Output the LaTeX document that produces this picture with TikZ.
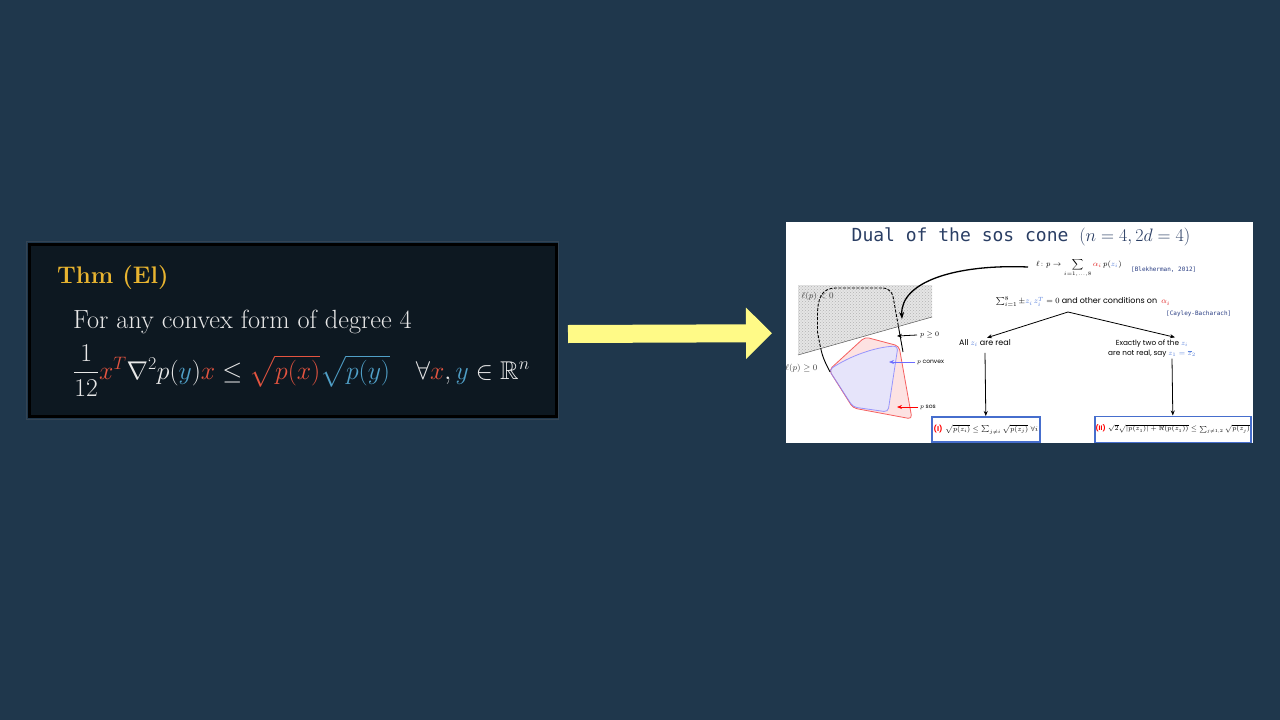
\RequirePackage{fix-cm}
\documentclass[tikz,border=0pt]{standalone}
\usepackage{amsmath,amssymb}
\usepackage{fontspec}
\newfontfamily\slidesans{Poppins}
\newfontfamily\slidemono{DejaVu Sans Mono}
\usetikzlibrary{arrows.meta,patterns}

\definecolor{bg}{RGB}{31,55,76}
\definecolor{panelfill}{RGB}{13,24,33}
\definecolor{panelrim}{RGB}{52,68,84}
\definecolor{gold}{RGB}{232,180,48}
\definecolor{xred}{RGB}{228,84,64}
\definecolor{yblue}{RGB}{80,160,200}
\definecolor{chalk}{RGB}{232,232,232}
\definecolor{arrowyellow}{RGB}{255,250,135}
\definecolor{titleblue}{RGB}{42,62,100}
\definecolor{refblue}{RGB}{40,60,130}
\definecolor{zblue}{RGB}{90,130,220}
\definecolor{alphared}{RGB}{225,35,35}
\definecolor{sosred}{RGB}{245,95,95}
\definecolor{sosfill}{RGB}{253,226,226}
\definecolor{cvxblue}{RGB}{135,135,255}
\definecolor{cvxfill}{RGB}{230,228,250}
\definecolor{boxblue}{RGB}{70,110,205}

\newcommand\xcol[1]{{\color{xred}#1}}
\newcommand\ycol[1]{{\color{yblue}#1}}
\newcommand\zcol[1]{{\color{zblue}#1}}
\newcommand\acol[1]{{\color{alphared}#1}}

\begin{document}
\begin{tikzpicture}[x=1pt,y=-1pt,
  every node/.style={inner sep=0pt},
  chalktext/.style={text=chalk,anchor=base west},
  sanslabel/.style={font=\slidesans\fontsize{8}{9.5}\selectfont},
  smalllabel/.style={font=\slidesans\fontsize{6}{7}\selectfont},
  refnote/.style={font=\slidemono\fontsize{6}{7}\selectfont,text=refblue},
  thinarrow/.style={-{Stealth[length=5pt,width=4pt]},line width=0.8pt},
  resultbox/.style={draw=boxblue,line width=1.6pt,fill=white,inner sep=0pt}
]
% background
\fill[bg] (0,0) rectangle (1280,720);
\useasboundingbox (0,0) rectangle (1280,720);

% ---------- theorem card ----------
\node[draw=panelrim,line width=1pt,minimum width=532pt,minimum height=178pt,anchor=north west] (rim) at (25.5,240.5) {};
\node[draw=black,line width=3pt,fill=panelfill,minimum width=527pt,minimum height=172pt,anchor=north west] (thm) at (28,243) {};
\node[anchor=base west,text=gold,font=\fontsize{24}{28}\selectfont\bfseries] (thmtitle) at (57,283) {Thm (El)};
\node[chalktext,font=\fontsize{26.3}{30}\selectfont] (hyp) at (73,328.5) {For any convex form of degree 4};
\node[chalktext,font=\fontsize{25.7}{30}\selectfont] (ineq) at (73,379)
  {$\dfrac{1}{12}\xcol{x^T}\nabla^2p(\ycol{y})\xcol{x}\le\xcol{\sqrt{p(x)}}\ycol{\sqrt{p(y)}}\quad\forall\xcol{x},\ycol{y}\in\mathbb{R}^n$};

% ---------- slide panel ----------
\node[fill=white,minimum width=467pt,minimum height=221pt,anchor=north west] (slide) at (786,222) {};

% yellow block arrow between the two
\draw[arrowyellow,line width=18pt,-{Triangle[length=26pt,width=50pt]}]
  ([xshift=10pt,yshift=-3.5pt]thm.east) -- ([xshift=-14pt,yshift=-0.5pt]slide.west);

\node[anchor=base,text=titleblue,font=\slidemono\fontsize{18}{20}\selectfont] (title) at (1021,241)
  {Dual of the sos cone $(n=4,2d=4)$};

% cone picture
\begin{scope}
  \clip (slide.north west) rectangle (slide.south east);
  % half-space l(p) < 0
  \fill[gray!20] (798,285) -- (932,285) -- (932,317) -- (798,355) -- cycle;
  \fill[pattern=crosshatch dots,pattern color=gray!60] (798,285) -- (932,285) -- (932,317) -- (798,355) -- cycle;
  \draw[gray!70!black,line width=0.5pt] (798,355) -- (932,317);

  % sos and convex sections
  \fill[sosfill,rounded corners=4pt] (829,370) -- (865,337) -- (899,346) -- (912,419) -- (853,408) -- cycle;
  \fill[cvxfill,rounded corners=4pt] (829,370) .. controls (850,356) and (875,347) .. (898,346) -- (888,412) -- (853,407) -- cycle;
  \draw[sosred,line width=0.8pt,rounded corners=4pt] (829,370) -- (865,337) -- (899,346) -- (912,419) -- (853,408) -- cycle;
  \draw[cvxblue,line width=0.8pt,opacity=0.85,rounded corners=4pt] (829,370) .. controls (850,356) and (875,347) .. (898,346) -- (888,412) -- (853,407) -- cycle;

  % nonnegative cone section: dashed where it lies in l(p)<0
  \begin{scope}
    \clip (786,285) -- (940,285) -- (940,315) -- (786,358) -- cycle;
    \draw[black,line width=0.9pt,dash pattern=on 3pt off 1.5pt]
      (830,372) .. controls (822,356) .. (817.5,332) -- (817.5,316) .. controls (817.5,299) and (821,288) .. (836,288)
      -- (882,288) .. controls (890,288) and (893,293) .. (894,302) -- (903,352);
  \end{scope}
  \begin{scope}
    \clip (786,358) -- (940,315) -- (940,450) -- (786,450) -- cycle;
    \draw[black,line width=0.9pt]
      (830,372) .. controls (822,356) .. (817.5,332) -- (817.5,316) .. controls (817.5,299) and (821,288) .. (836,288)
      -- (882,288) .. controls (890,288) and (893,293) .. (894,302) -- (903,352);
  \end{scope}

  \node[anchor=west,text=gray!50!black,font=\fontsize{8.5}{10}\selectfont] (neg) at (801.5,296) {$\ell(p)<0$};
  \node[text=gray!50!black,font=\fontsize{8.5}{10}\selectfont,anchor=east] (pos) at (817.5,368) {$\ell(p)\ge0$};
\end{scope}

% side labels of the cones
\coordinate (nnegtip) at (897,336);
\coordinate (cvxtip) at (889,362);
\coordinate (sostip) at (897,407);
\node[anchor=west,font=\fontsize{7}{8}\selectfont] (nneg) at (920,335) {$p\ge0$};
\node[anchor=west,smalllabel] (cvx) at (917,362) {$p$ convex};
\node[anchor=west,smalllabel] (sos) at (920,407) {$p$ sos};
\draw[thinarrow] ([xshift=-3pt]nneg.west) -- (nnegtip);
\draw[thinarrow,draw=cvxblue!80!blue,fill=cvxblue!80!blue] ([xshift=-2pt]cvx.west) -- (cvxtip);
\draw[thinarrow,draw=red,fill=red] ([xshift=-2pt]sos.west) -- (sostip);

% functional and references
\node[anchor=west,font=\fontsize{7.5}{9}\selectfont] (ell) at (1036,268)
  {$\ell\colon p\to\displaystyle\sum_{i=1,\dots,8}\acol{\alpha_i}\,p(\zcol{z_i})$};
\node[anchor=west,refnote] (blek) at (1131,270) {[Blekherman, 2012]};
\coordinate (functip) at (902,319);
\draw[-{Stealth[length=7pt,width=5pt]},line width=1.3pt] ([xshift=-8pt,yshift=1pt]ell.west) .. controls (955,264) and (900,282) .. (functip);

\node[sanslabel] (cond) at (1083,301.5)
  {$\sum_{i=1}^{8}\pm\zcol{z_i\,z_i^T}=0$ and other conditions on \ \acol{$\alpha_i$}};
\node[anchor=west,refnote] (cayley) at (1166,314) {[Cayley-Bacharach]};

\node[sanslabel] (allreal) at (985,343) {All \zcol{$z_i$} are real};
\node[font=\slidesans\fontsize{7.3}{10.5}\selectfont,align=center] (tworeal) at (1152,348.5)
  {Exactly two of the \zcol{$z_i$}\\are not real, say \zcol{$z_1=\overline{z}_2$}};
\coordinate (split) at (1068,312);
\draw[thinarrow] (split) -- ([xshift=2pt,yshift=1.5pt]allreal.north);
\draw[thinarrow] (split) -- ([xshift=23pt,yshift=2pt]tworeal.north);

% the two resulting inequalities
\node[resultbox,minimum width=108pt,minimum height=25pt,anchor=north west,font=\fontsize{7}{8}\selectfont] (boxone) at (931,416)
  {\textcolor{red}{\slidesans\bfseries(I)} $\sqrt{p(z_i)}\le\sum_{j\neq i}\sqrt{p(z_j)}\;\forall i$};
\node[resultbox,minimum width=156pt,minimum height=26pt,anchor=north west,font=\fontsize{6.5}{8}\selectfont] (boxtwo) at (1094,415.5)
  {\textcolor{red}{\slidesans\bfseries(II)} $\sqrt2\sqrt{|p(z_1)|+\Re(p(z_1))}\le\sum_{j\neq1,2}\sqrt{p(z_j)}$};
\draw[thinarrow] ([yshift=-6pt]allreal.south) -- (boxone.north);
\draw[thinarrow] ([xshift=20pt,yshift=-1pt]tworeal.south) -- (boxtwo.north);
\end{tikzpicture}
\end{document}
